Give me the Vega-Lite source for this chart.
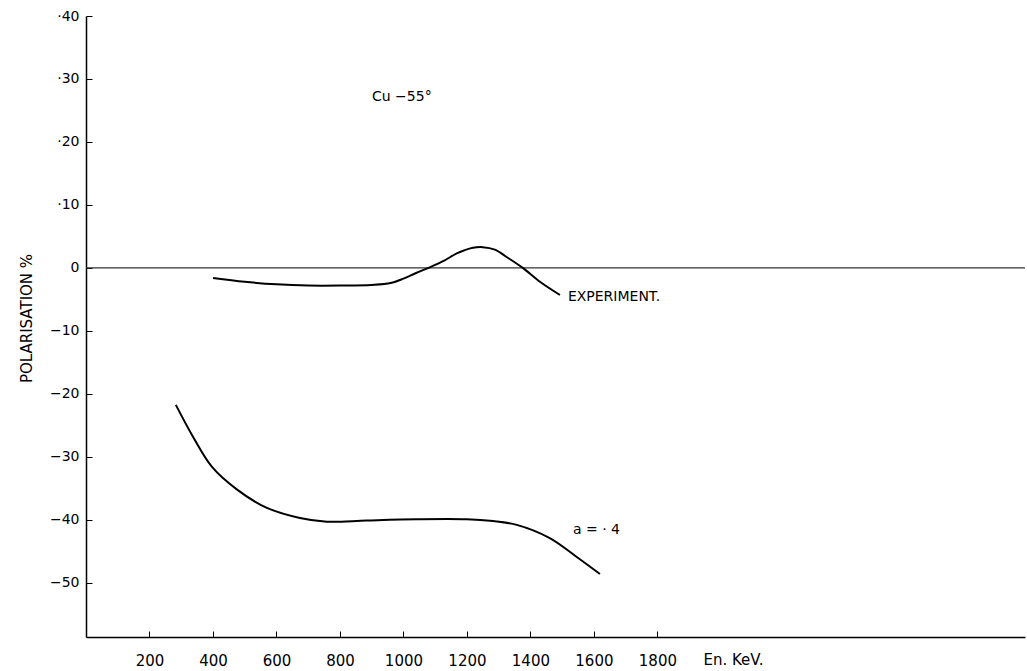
{
  "$schema": "https://vega.github.io/schema/vega-lite/v6.json",
  "width": 939,
  "height": 621,
  "autosize": "none",
  "padding": {"left": 86, "top": 16, "right": 2, "bottom": 34},
  "background": "white",
  "config": {"view": {"stroke": null}, "font": "DejaVu Sans"},
  "datasets": {
    "curves": [
      {"series": "experiment", "energy": 400, "pol": -0.016},
      {"series": "experiment", "energy": 500, "pol": -0.022},
      {"series": "experiment", "energy": 600, "pol": -0.026},
      {"series": "experiment", "energy": 700, "pol": -0.028},
      {"series": "experiment", "energy": 800, "pol": -0.028},
      {"series": "experiment", "energy": 900, "pol": -0.027},
      {"series": "experiment", "energy": 960, "pol": -0.024},
      {"series": "experiment", "energy": 1000, "pol": -0.017},
      {"series": "experiment", "energy": 1040, "pol": -0.008},
      {"series": "experiment", "energy": 1083, "pol": 0.001},
      {"series": "experiment", "energy": 1130, "pol": 0.012},
      {"series": "experiment", "energy": 1168, "pol": 0.023},
      {"series": "experiment", "energy": 1219, "pol": 0.032},
      {"series": "experiment", "energy": 1250, "pol": 0.033},
      {"series": "experiment", "energy": 1288, "pol": 0.029},
      {"series": "experiment", "energy": 1326, "pol": 0.017},
      {"series": "experiment", "energy": 1376, "pol": 0.0},
      {"series": "experiment", "energy": 1430, "pol": -0.022},
      {"series": "experiment", "energy": 1493, "pol": -0.043},
      {"series": "a=0.4", "energy": 283, "pol": -0.2175},
      {"series": "a=0.4", "energy": 337, "pol": -0.268},
      {"series": "a=0.4", "energy": 397, "pol": -0.316},
      {"series": "a=0.4", "energy": 476, "pol": -0.352},
      {"series": "a=0.4", "energy": 570, "pol": -0.381},
      {"series": "a=0.4", "energy": 674, "pol": -0.397},
      {"series": "a=0.4", "energy": 759, "pol": -0.403},
      {"series": "a=0.4", "energy": 885, "pol": -0.401},
      {"series": "a=0.4", "energy": 1043, "pol": -0.399},
      {"series": "a=0.4", "energy": 1200, "pol": -0.399},
      {"series": "a=0.4", "energy": 1282, "pol": -0.402},
      {"series": "a=0.4", "energy": 1357, "pol": -0.408},
      {"series": "a=0.4", "energy": 1461, "pol": -0.429},
      {"series": "a=0.4", "energy": 1546, "pol": -0.459},
      {"series": "a=0.4", "energy": 1619, "pol": -0.486}
    ],
    "labels": [
      {"energy": 901, "pol": 0.271, "label": "Cu −55°"},
      {"energy": 1518, "pol": -0.046, "label": "EXPERIMENT."},
      {"energy": 1534, "pol": -0.416, "label": "a = · 4"}
    ]
  },
  "layer": [
    {
      "data": {"values": [{}]},
      "mark": {"type": "rule", "color": "#333333", "strokeWidth": 1.3},
      "encoding": {
        "y": {"datum": 0, "type": "quantitative"}
      }
    },
    {
      "data": {"name": "curves"},
      "mark": {"type": "line", "interpolate": "catmull-rom", "color": "black", "strokeWidth": 2},
      "encoding": {
        "x": {
          "field": "energy", "type": "quantitative",
          "scale": {"domain": [0, 2958], "nice": false, "zero": false},
          "axis": {
            "values": [200, 400, 600, 800, 1000, 1200, 1400, 1600, 1800],
            "format": "d",
            "grid": false,
            "domainColor": "black", "domainWidth": 1.5,
            "tickColor": "black", "tickWidth": 1, "tickSize": -6,
            "labelFontSize": 15, "labelColor": "black", "labelPadding": 22,
            "title": "En. KeV.", "titleFontSize": 15, "titleFontWeight": "normal", "titleColor": "black",
            "titleX": 617, "titleY": 22, "titleAlign": "left", "titleBaseline": "middle"
          }
        },
        "y": {
          "field": "pol", "type": "quantitative",
          "scale": {"domain": [-0.586, 0.4], "nice": false, "zero": false},
          "axis": {
            "values": [-0.5, -0.4, -0.3, -0.2, -0.1, 0, 0.1, 0.2, 0.3, 0.4],
            "labelExpr": "datum.value > 0.001 ? '·' + format(datum.value*100, 'd') : (datum.value < -0.001 ? '−' + format(-datum.value*100, 'd') : '0')",
            "grid": false,
            "domainColor": "black", "domainWidth": 1.5,
            "tickColor": "black", "tickWidth": 1, "tickSize": -6,
            "labelFontSize": 14, "labelColor": "black", "labelPadding": 13,
            "title": "POLARISATION %", "titleFontSize": 15, "titleFontWeight": "normal", "titleColor": "black",
            "titleX": -60, "titleY": 302, "titleAlign": "center", "titleBaseline": "middle", "titleAngle": -90
          }
        },
        "detail": {"field": "series"}
      }
    },
    {
      "data": {"name": "labels"},
      "mark": {"type": "text", "align": "left", "baseline": "middle", "fontSize": 14, "color": "black"},
      "encoding": {
        "x": {"field": "energy", "type": "quantitative"},
        "y": {"field": "pol", "type": "quantitative"},
        "text": {"field": "label"}
      }
    }
  ]
}
